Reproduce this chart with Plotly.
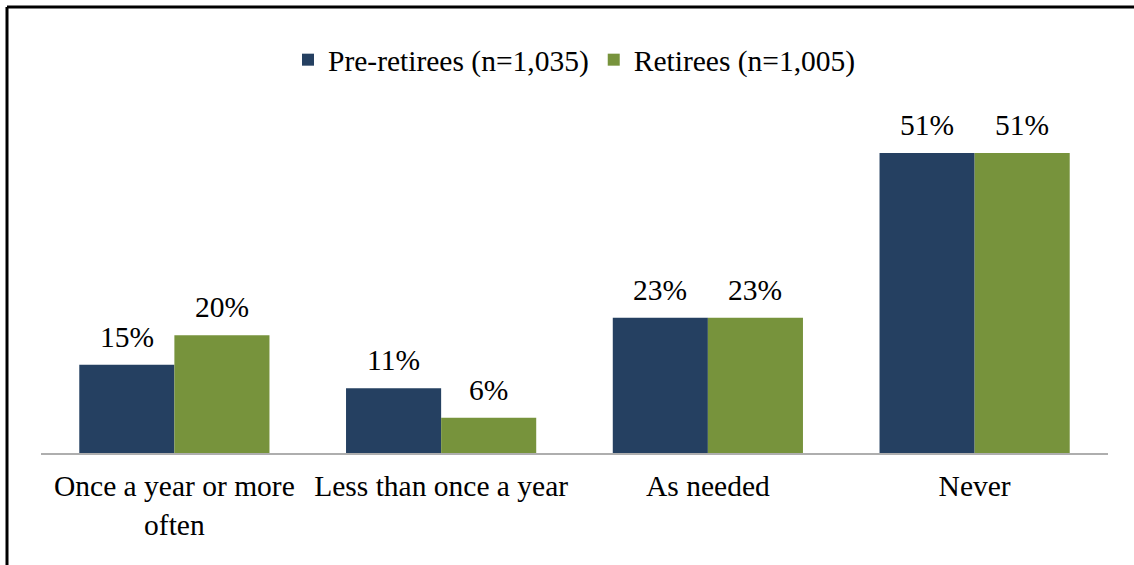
import plotly.graph_objects as go

categories = ["Once a year or more<br>often", "Less than once a year", "As needed", "Never"]
pre_retirees = [15, 11, 23, 51]
retirees = [20, 6, 23, 51]
series_names = ["Pre-retirees (n=1,035)", "Retirees (n=1,005)"]

FONT = "'Liberation Serif', 'Times New Roman', serif"
FS = 29.5
BAR_PX = 95  # bar width in px, used for label offsets

fig = go.Figure()
fig.add_trace(go.Bar(
    x=categories, y=pre_retirees, name=series_names[0],
    marker=dict(color="#254061", line=dict(width=0)),
))
fig.add_trace(go.Bar(
    x=categories, y=retirees, name=series_names[1],
    marker=dict(color="#77933C", line=dict(width=0)),
))

annotations = []
for series, shift in ((pre_retirees, -BAR_PX / 2), (retirees, BAR_PX / 2)):
    for cat, v in zip(categories, series):
        annotations.append(dict(
            x=cat, y=v, xref="x", yref="y", text=f"{v}%", showarrow=False,
            xanchor="center", yanchor="bottom", xshift=shift, yshift=10,
            font=dict(family=FONT, size=FS, color="black"),
        ))

top_y = 1 + (100 - 7) / 353
left_x = (7 - 41) / 1067

fig.update_layout(
    width=1134, height=565,
    margin=dict(l=41, r=26, t=100, b=112),
    paper_bgcolor="white", plot_bgcolor="white",
    barmode="group", bargap=0.287, bargroupgap=0,
    font=dict(family=FONT, size=FS, color="black"),
    showlegend=True,
    legend=dict(orientation="h", x=0.5, xanchor="center", y=1 + (100 - 60) / 353, yanchor="middle",
                font=dict(family=FONT, size=FS), tracegroupgap=0, bgcolor="rgba(0,0,0,0)"),
    xaxis=dict(showline=True, linecolor="#AEAEAE", linewidth=2, ticks="",
               tickfont=dict(family=FONT, size=FS), showgrid=False, ticklabelstandoff=6),
    yaxis=dict(range=[0, 60], visible=False, showgrid=False),
    annotations=annotations,
    shapes=[
        dict(type="line", xref="paper", yref="paper", layer="above",
             x0=left_x, x1=1.05, y0=top_y, y1=top_y,
             line=dict(color="black", width=3)),
        dict(type="line", xref="paper", yref="paper", layer="above",
             x0=left_x, x1=left_x, y0=top_y, y1=-0.35,
             line=dict(color="black", width=3)),
    ],
)

fig.write_html("out.html", config={"displayModeBar": False},
               post_script="document.body.style.margin='0';")
